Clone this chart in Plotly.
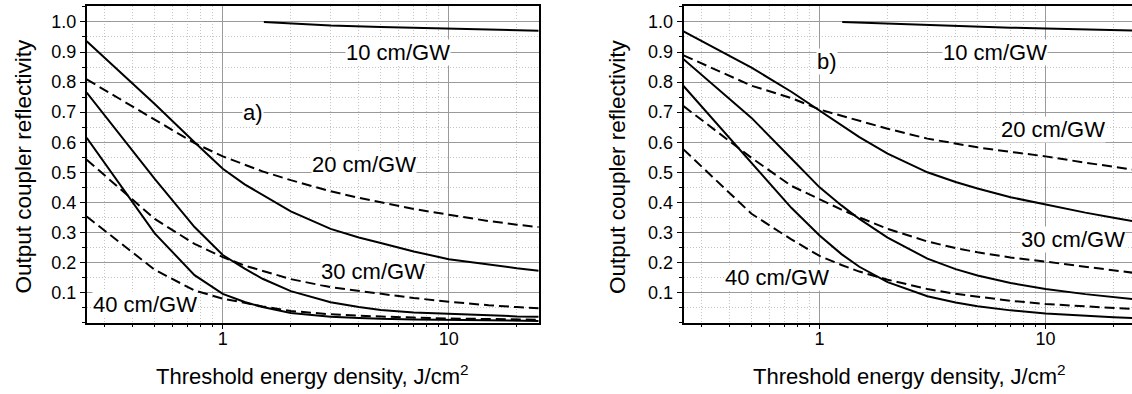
import math
import plotly.graph_objects as go

# Threshold energy density grid, J/cm^2
energy = [0.25, 0.5, 0.75, 1, 1.25, 1.5, 2, 3, 4, 5, 7, 10, 15, 20, 25]

# ---- panel a) ----
energy_10a = [1.52, 1.8, 2.2, 3, 5, 10, 25]
solid_10a = [1.0, 0.997, 0.993, 0.988, 0.983, 0.978, 0.971]
solid_20a = [0.936, 0.727, 0.600, 0.512, 0.460, 0.425, 0.370, 0.312, 0.283, 0.265, 0.237, 0.211, 0.192, 0.181, 0.173]
dash_20a = [0.809, 0.677, 0.597, 0.553, 0.525, 0.503, 0.474, 0.437, 0.415, 0.400, 0.378, 0.359, 0.338, 0.326, 0.318]
solid_30a = [0.765, 0.478, 0.318, 0.225, 0.180, 0.146, 0.105, 0.068, 0.052, 0.042, 0.034, 0.029, 0.024, 0.021, 0.020]
dash_30a = [0.542, 0.345, 0.262, 0.218, 0.190, 0.172, 0.145, 0.118, 0.105, 0.097, 0.082, 0.070, 0.058, 0.052, 0.048]
solid_40a = [0.615, 0.297, 0.158, 0.096, 0.069, 0.052, 0.032, 0.020, 0.016, 0.013, 0.011, 0.009, 0.008, 0.007, 0.006]
dash_40a = [0.353, 0.176, 0.107, 0.080, 0.066, 0.054, 0.039, 0.028, 0.023, 0.020, 0.017, 0.014, 0.012, 0.011, 0.010]

# ---- panel b) ----
energy_10b = [1.26, 1.5, 2, 3, 4, 5, 7, 10, 15, 20, 25]
solid_10b = [1.0, 0.998, 0.994, 0.989, 0.987, 0.985, 0.981, 0.978, 0.975, 0.973, 0.971]
solid_20b = [0.969, 0.848, 0.768, 0.706, 0.655, 0.617, 0.562, 0.500, 0.468, 0.446, 0.417, 0.392, 0.366, 0.349, 0.336]
dash_20b = [0.889, 0.788, 0.747, 0.709, 0.688, 0.671, 0.645, 0.612, 0.595, 0.583, 0.568, 0.553, 0.532, 0.518, 0.508]
solid_30b = [0.876, 0.681, 0.546, 0.450, 0.390, 0.345, 0.283, 0.213, 0.178, 0.157, 0.132, 0.112, 0.095, 0.085, 0.078]
dash_30b = [0.720, 0.548, 0.455, 0.409, 0.376, 0.350, 0.312, 0.270, 0.248, 0.234, 0.217, 0.203, 0.185, 0.174, 0.165]
solid_40b = [0.787, 0.533, 0.382, 0.290, 0.228, 0.186, 0.135, 0.088, 0.067, 0.055, 0.041, 0.031, 0.022, 0.018, 0.015]
dash_40b = [0.576, 0.362, 0.277, 0.222, 0.192, 0.170, 0.143, 0.112, 0.096, 0.086, 0.073, 0.062, 0.054, 0.049, 0.045]

# Curve labels: (text, energy, reflectivity)
labels_a = [("10 cm/GW", 5.98, 0.90), ("20 cm/GW", 4.23, 0.526),
            ("30 cm/GW", 4.61, 0.17), ("40 cm/GW", 0.451, 0.059), ("a)", 1.36, 0.70)]
labels_b = [("10 cm/GW", 6.0, 0.90), ("20 cm/GW", 10.8, 0.642),
            ("30 cm/GW", 13.2, 0.278), ("40 cm/GW", 0.65, 0.151), ("b)", 1.08, 0.867)]

y_ticks = [0.1, 0.2, 0.3, 0.4, 0.5, 0.6, 0.7, 0.8, 0.9, 1.0]
x_ticks = [1, 10]
x_minor = [0.3, 0.4, 0.5, 0.6, 0.7, 0.8, 0.9, 2, 3, 4, 5, 6, 7, 8, 9, 20]

FONT = "Liberation Sans, Arial, sans-serif"
W, H = 1132, 394
fig = go.Figure()

panels = [
    ("x", "y", energy_10a, solid_10a,
     [(solid_20a, "solid"), (dash_20a, "dash"), (solid_30a, "solid"),
      (dash_30a, "dash"), (solid_40a, "solid"), (dash_40a, "dash")]),
    ("x2", "y2", energy_10b, solid_10b,
     [(solid_20b, "solid"), (dash_20b, "dash"), (solid_30b, "solid"),
      (dash_30b, "dash"), (solid_40b, "solid"), (dash_40b, "dash")]),
]
for xa, ya, e10, s10, curves in panels:
    fig.add_trace(go.Scatter(x=e10, y=s10, mode="lines", xaxis=xa, yaxis=ya,
                             line=dict(color="black", width=2), showlegend=False))
    for vals, style in curves:
        fig.add_trace(go.Scatter(
            x=energy, y=vals, mode="lines", xaxis=xa, yaxis=ya, showlegend=False,
            line=dict(color="black", width=2,
                      dash="solid" if style == "solid" else "10px,5px")))

grid_major = "#9a9a9a"
grid_minor = "#c4c4c4"


def xaxis_style(domain, rng, anchor):
    return dict(
        type="log", domain=domain, range=rng, anchor=anchor,
        tickvals=x_ticks, ticktext=["1", "10"],
        ticks="outside", ticklen=5, tickwidth=1, tickcolor="black",
        ticklabelstandoff=-6,
        showline=True, linecolor="black", linewidth=1.5, mirror=True,
        showgrid=True, gridcolor=grid_major, gridwidth=1,
        minor=dict(tickvals=x_minor, ticks="outside", ticklen=3, tickcolor="black",
                   showgrid=True, gridcolor=grid_minor, griddash="1px,2px", gridwidth=1),
        tickfont=dict(family=FONT, size=18, color="black"), zeroline=False,
        automargin=False,
    )


def yaxis_style(anchor, mirror):
    return dict(
        domain=[(H - 322.7) / H, (H - 6) / H], range=[0, 1.053], anchor=anchor,
        tickvals=y_ticks, ticktext=[f"{v:.1f}" for v in y_ticks],
        ticks="outside", ticklen=5, tickwidth=1, tickcolor="black",
        showline=True, linecolor="black", linewidth=1.5, mirror=mirror,
        showgrid=True, gridcolor=grid_major, gridwidth=1,
        minor=dict(dtick=0.05, tick0=0, ticks="outside", ticklen=3, tickcolor="black",
                   showgrid=True, gridcolor=grid_minor, griddash="1px,2px", gridwidth=1),
        tickfont=dict(family=FONT, size=18, color="black"), zeroline=False,
        automargin=False,
    )


lo = math.log10(0.25)
decade_px = 226.0
left_a, right_a = 86.7, 538.7
left_b = 683.5
fig.update_layout(
    width=W, height=H, margin=dict(l=0, r=0, t=0, b=0),
    paper_bgcolor="white", plot_bgcolor="white",
    font=dict(family=FONT, color="black"),
    xaxis=xaxis_style([left_a / W, right_a / W], [lo, math.log10(25)], "y"),
    yaxis=yaxis_style("x", True),
    xaxis2=xaxis_style([left_b / W, 1.0], [lo, lo + (W - left_b) / decade_px], "y2"),
    yaxis2=yaxis_style("x2", False),
)

annotations = []
for (xr, yr), labs in ((("x", "y"), labels_a), (("x2", "y2"), labels_b)):
    for text, ex, r in labs:
        annotations.append(dict(
            x=math.log10(ex), y=r, xref=xr, yref=yr, text=text, showarrow=False,
            font=dict(family=FONT, size=22, color="black"),
            bgcolor="white", borderpad=0, xanchor="center", yanchor="middle"))

xtitle = "Threshold energy density, J/cm<sup>2</sup>"
ytitle = "Output coupler reflectivity"
for cx in ((left_a + right_a) / 2, left_b + decade_px):
    annotations.append(dict(
        x=cx / W, y=(H - 375) / H, xref="paper", yref="paper", text=xtitle,
        showarrow=False, xanchor="center", yanchor="middle",
        font=dict(family=FONT, size=22, color="black")))
for cx in (23, 617.5):
    annotations.append(dict(
        x=cx / W, y=(H - 166.5) / H, xref="paper", yref="paper", text=ytitle,
        showarrow=False, textangle=-90, xanchor="center", yanchor="middle",
        font=dict(family=FONT, size=22.5, color="black")))

fig.update_layout(annotations=annotations)
fig.write_html("out.html")
